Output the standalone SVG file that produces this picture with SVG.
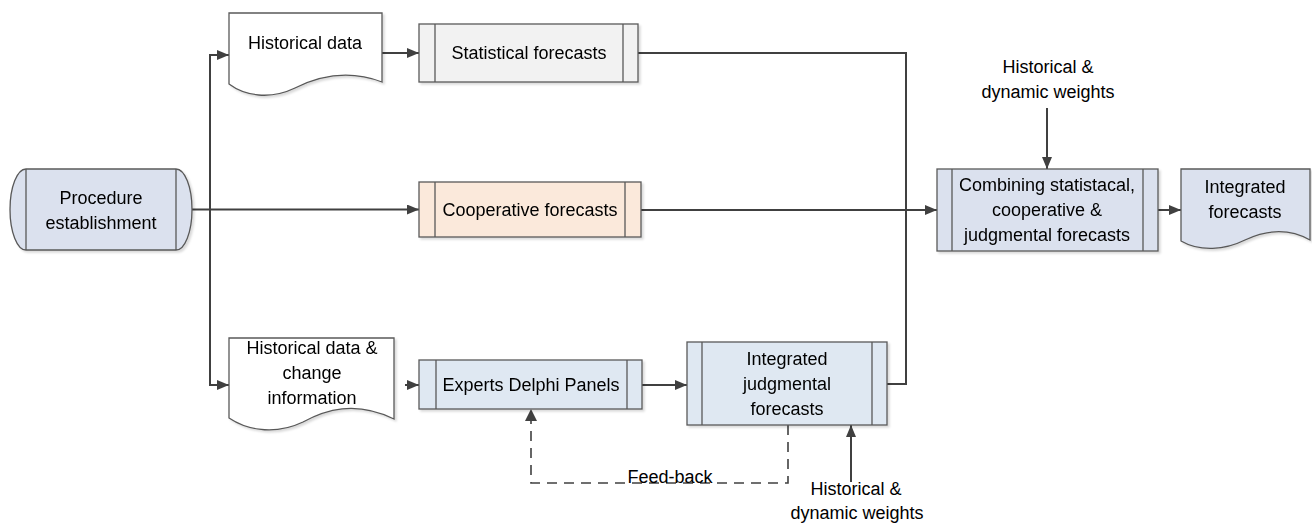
<svg xmlns="http://www.w3.org/2000/svg" width="1312" height="524" viewBox="0 0 1312 524">
<defs>
<style>
.t{font-family:"Liberation Sans",Arial,sans-serif;font-size:18px;fill:#000;text-anchor:middle;dominant-baseline:central}
.box{stroke:#595959;stroke-width:1.3}
.in{stroke:#595959;stroke-width:1.3;fill:none}
.c{stroke:#404040;stroke-width:2;fill:none}
.d{stroke:#404040;stroke-width:1.6;fill:none;stroke-dasharray:10,7}
</style>
<marker id="ah" viewBox="0 0 12 10" refX="12" refY="5" markerWidth="12" markerHeight="10" markerUnits="userSpaceOnUse" orient="auto">
<path d="M0,0 L12,5 L0,10 Z" fill="#404040"/>
</marker>
<filter id="sh" x="-5%" y="-5%" width="115%" height="120%">
<feDropShadow dx="2" dy="2" stdDeviation="1" flood-color="#000" flood-opacity="0.15"/>
</filter>
</defs>

<g id="connectors">
<path class="c" d="M192,209.5 H419" marker-end="url(#ah)"/>
<path class="c" d="M210,209.5 V55 H229" marker-end="url(#ah)"/>
<path class="c" d="M210,209.5 V385 H229" marker-end="url(#ah)"/>
<path class="c" d="M382,53 H419" marker-end="url(#ah)"/>
<path class="c" d="M638,53 H906 V384 H887"/>
<path class="c" d="M641,210 H937" marker-end="url(#ah)"/>
<path class="c" d="M1158,210 H1181" marker-end="url(#ah)"/>
<path class="c" d="M1047,108 V169" marker-end="url(#ah)"/>
<path class="c" d="M405,385 H419" marker-end="url(#ah)"/>
<path class="c" d="M642,385 H687" marker-end="url(#ah)"/>
<path class="c" d="M851,482 V425" marker-end="url(#ah)"/>
<path class="d" d="M788,425 V483 H531 V421"/>
<path d="M525,421 L531,409 L537,421 Z" fill="#404040"/>
<text class="t" x="670" y="477">Feed-back</text>
</g>

<g id="procedure" filter="url(#sh)">
<path class="box" fill="#dbe1ee" d="M26,169 H176 A16,40.5 0 0 1 176,250 H26 A16,40.5 0 0 1 26,169 Z"/>
<path class="in" d="M26,169 V250 M176,169 V250"/>
<text class="t" x="101" y="198">Procedure</text>
<text class="t" x="101" y="223">establishment</text>
</g>

<g id="historical-data" filter="url(#sh)">
<path class="box" fill="#ffffff" d="M229,13 H382 V82 C345,68 315,78 295,88 C270,100 245,96 229,84 Z"/>
<text class="t" x="305" y="43">Historical data</text>
</g>

<g id="statistical" filter="url(#sh)">
<rect class="box" fill="#f2f2f2" x="419" y="24" width="219" height="58"/>
<path class="in" d="M435,24 V82 M623,24 V82"/>
<text class="t" x="529" y="53">Statistical forecasts</text>
</g>

<g id="cooperative" filter="url(#sh)">
<rect class="box" fill="#fbe9db" x="419" y="182" width="222" height="55"/>
<path class="in" d="M435,182 V237 M625,182 V237"/>
<text class="t" x="530" y="209.5">Cooperative forecasts</text>
</g>

<g id="historical-change" filter="url(#sh)">
<path class="box" fill="#ffffff" d="M229,338 H394 V419 C355,400 325,410 303,422 C278,434 250,432 229,418 Z"/>
<text class="t" x="312" y="348">Historical data &amp;</text>
<text class="t" x="312" y="373">change</text>
<text class="t" x="312" y="398">information</text>
</g>

<g id="experts" filter="url(#sh)">
<rect class="box" fill="#dfe8f2" x="419" y="360" width="223" height="49"/>
<path class="in" d="M436,360 V409 M627,360 V409"/>
<text class="t" x="531" y="385">Experts Delphi Panels</text>
</g>

<g id="integrated-judgmental" filter="url(#sh)">
<rect class="box" fill="#dfe8f2" x="687" y="342" width="200" height="83"/>
<path class="in" d="M702,342 V425 M872,342 V425"/>
<text class="t" x="787" y="359">Integrated</text>
<text class="t" x="787" y="384">judgmental</text>
<text class="t" x="787" y="409">forecasts</text>
</g>

<g id="combining" filter="url(#sh)">
<rect class="box" fill="#dbe1ee" x="937" y="169" width="221" height="82"/>
<path class="in" d="M952,169 V251 M1143,169 V251"/>
<text class="t" x="1047" y="185">Combining statistacal,</text>
<text class="t" x="1047" y="210">cooperative &amp;</text>
<text class="t" x="1047" y="235">judgmental forecasts</text>
</g>

<g id="integrated-forecasts" filter="url(#sh)">
<path class="box" fill="#dbe1ee" d="M1181,169 H1310 V240 C1285,226 1262,232 1245,240 C1225,250 1200,252 1181,241 Z"/>
<text class="t" x="1245" y="187">Integrated</text>
<text class="t" x="1245" y="212">forecasts</text>
</g>

<g id="weights-top">
<text class="t" x="1048" y="67">Historical &amp;</text>
<text class="t" x="1048" y="92">dynamic weights</text>
</g>

<g id="weights-bottom">
<text class="t" x="856" y="489">Historical &amp;</text>
<text class="t" x="857" y="513">dynamic weights</text>
</g>
</svg>
